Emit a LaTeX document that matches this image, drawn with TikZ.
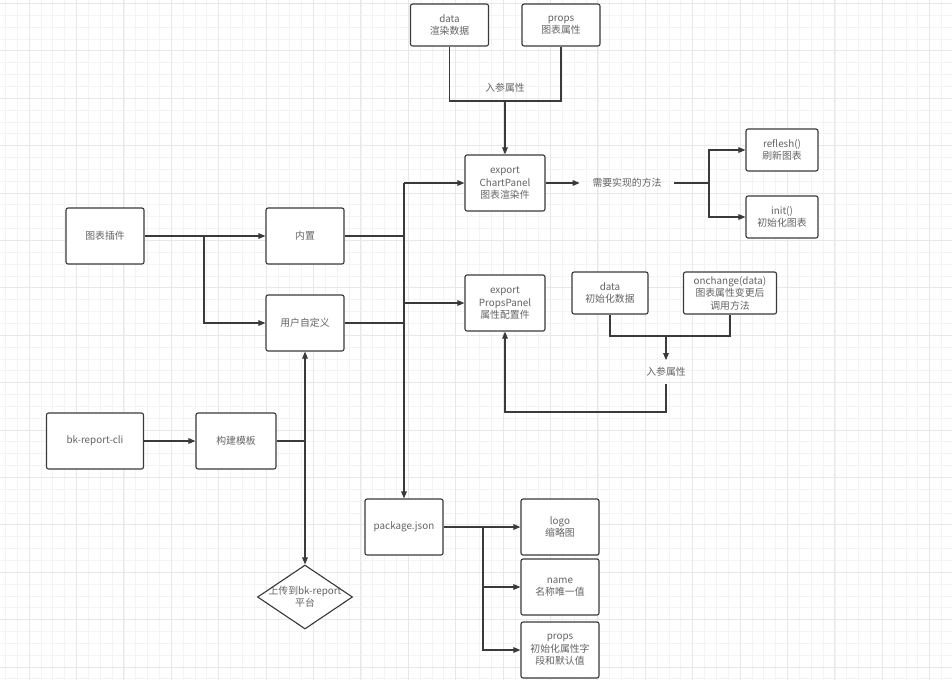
\documentclass[tikz,border=0pt]{standalone}
\usepackage{fontspec}
\setmainfont{Noto Sans CJK SC}
\usetikzlibrary{arrows.meta,shapes.geometric}
\definecolor{linec}{HTML}{3A3A3A}
\definecolor{txtc}{HTML}{636363}
\definecolor{gridminor}{HTML}{F3F3F3}
\definecolor{gridmajor}{HTML}{E8E8E8}
\tikzset{
  box/.style={draw=linec, line width=0.8pt, rounded corners=1.5pt, fill=white, align=center,
    text=txtc, font=\fontsize{7}{8.9}\selectfont, minimum width=1.95cm, minimum height=1.4cm, inner sep=1pt},
  smallbox/.style={box, minimum height=1.05cm},
  lbl/.style={text=txtc, font=\fontsize{7}{8.9}\selectfont, align=center, inner sep=1pt},
  decision/.style={diamond, draw=linec, line width=0.8pt, fill=white, inner sep=0pt,
    minimum width=2.375cm, minimum height=1.6cm},
  wire/.style={draw=linec, line width=0.8pt},
  link/.style={wire, -{Triangle[length=5pt,width=4pt]}},
}
\begin{document}
\begin{tikzpicture}[x=0.025cm,y=-0.025cm]
\useasboundingbox (0,0) rectangle (952,680);
\fill[white] (0,0) rectangle (952,680);
% grid
\foreach \k in {0,...,80} \draw[gridminor,line width=0.4pt] ({5.3+\k*11.85},0) -- ++(0,680);
\foreach \k in {0,...,57} \draw[gridminor,line width=0.4pt] (0,{3.3+\k*11.85}) -- ++(952,0);
\foreach \k in {0,...,19} \draw[gridmajor,line width=0.5pt] ({29+\k*47.4},0) -- ++(0,680);
\foreach \k in {0,...,14} \draw[gridmajor,line width=0.5pt] (0,{3.3+\k*47.4}) -- ++(952,0);

% top inputs
\node[smallbox] (rdata) at (449.5,25) {data\\渲染数据};
\node[smallbox] (rprops) at (561,25) {props\\图表属性};
\node[lbl] (param1) at (505,88) {入参属性};
\coordinate (topjoin) at (505,101);
\draw[wire] (rdata.south) |- (topjoin) -| (rprops.south);

% panels
\node[box, minimum width=2cm] (chart) at (505,183) {export\\ChartPanel\\图表渲染件};
\node[box, minimum width=2cm] (props) at (505,303) {export\\PropsPanel\\属性配置件};
\draw[link] (topjoin) -- (chart.north);

\node[lbl, inner xsep=9pt] (methods) at (627,183) {需要实现的方法};
\node[smallbox, minimum width=1.8cm] (reflesh) at (782,150) {reflesh()\\刷新图表};
\node[smallbox, minimum width=1.8cm] (init) at (782,217) {init()\\初始化图表};
\draw[link] (chart.east) -- (methods.west);
\coordinate (fork) at (709,183);
\draw[wire] (methods.east) -- (fork);
\draw[link] (fork) |- (reflesh.west);
\draw[link] (fork) |- (init.west);

% plugin source
\node[box] (plugin) at (105,236) {图表插件};
\node[box] (builtin) at (305,236) {内置};
\node[box] (custom) at (305,323) {用户自定义};
\coordinate (split) at (204,236);
\draw[link] (plugin.east) -- (builtin.west);
\draw[link] (split) |- (custom.west);

% bus
\coordinate (bus) at (404,183);
\node[box] (pkg) at (404,527) {package.json};
\draw[wire] (builtin.east) -- (builtin.east -| bus);
\draw[wire] (custom.east) -- (custom.east -| bus);
\draw[link] (bus) -- (chart.west);
\draw[link] (bus |- props.west) -- (props.west);
\draw[link] (bus) -- (pkg.north);

% props panel inputs
\node[smallbox, minimum width=1.9cm] (idata) at (610,293) {data\\初始化数据};
\node[smallbox, minimum width=2.325cm] (change) at (730,293) {onchange(data)\\图表属性变更后\\调用方法};
\node[lbl, inner ysep=5pt] (param2) at (666,372) {入参属性};
\coordinate (join2) at (666,336);
\coordinate (back) at (666,412);
\draw[wire] (idata.south) |- (join2) -| (change.south);
\draw[link] (join2) -- (param2.north);
\draw[link] (param2.south) -- (back) -| (props.south);

% cli
\node[box, minimum width=2.425cm] (cli) at (95,441) {bk-report-cli};
\node[box, minimum width=2cm] (build) at (236,441) {构建模板};
\node[decision] (upload) at (305,597) {};
\node[lbl] (uploadtxt) at (upload) {上传到bk-report\\平台};
\coordinate (mid) at (305,441);
\draw[link] (cli.east) -- (build.west);
\draw[wire] (build.east) -- (mid);
\draw[link] (mid) -- (custom.south);
\draw[link] (mid) -- (upload.north);

% package fields
\node[box] (logo) at (560,527) {logo\\缩略图};
\node[box] (name) at (560,587) {name\\名称唯一值};
\node[box] (pdef) at (560,650) {props\\初始化属性字\\段和默认值};
\coordinate (pfork) at (483,527);
\draw[link] (pkg.east) -- (logo.west);
\draw[link] (pfork) |- (name.west);
\draw[link] (pfork) |- (pdef.west);
\end{tikzpicture}
\end{document}
